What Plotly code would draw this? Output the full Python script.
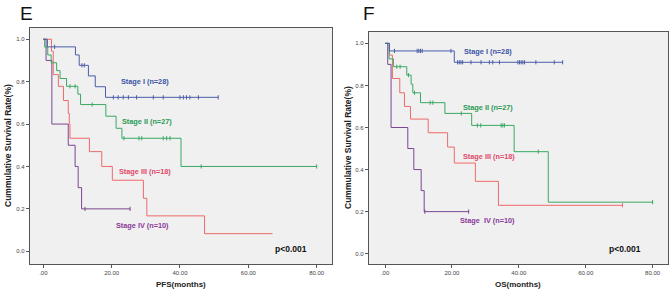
import numpy as np
import plotly.graph_objects as go

# ---------------- data ----------------
stage_names = ["Stage I (n=28)", "Stage II (n=27)", "Stage III (n=18)", "Stage IV (n=10)"]
os_stage_names = ["Stage I (n=28)", "Stage II (n=27)", "Stage III (n=18)", "Stage  IV (n=10)"]

x_tick_vals = [0, 20, 40, 60, 80]
x_tick_text = [".00", "20.00", "40.00", "60.00", "80.00"]
y_tick_vals = [0, 0.2, 0.4, 0.6, 0.8, 1.0]
y_tick_text = ["0.0", "0.2", "0.4", "0.6", "0.8", "1.0"]

# PFS (panel E)
pfs_s1_t = [0, 1.2, 9.4, 10.5, 13.2, 15.2, 18.2]
pfs_s1_s = [1, 0.964, 0.926, 0.877, 0.827, 0.776, 0.726]
pfs_s1_end = 51.2
pfs_s1_cens = [3.3, 11.3, 12.0, 20.5, 21.9, 23.4, 24.9, 27.3, 32.2, 35.1, 40.0, 41.0, 41.9, 42.9, 45.4, 51.2]

pfs_s2_t = [0, 0.4, 1.3, 2.3, 3.9, 4.9, 6.8, 10.1, 10.9, 18.3, 21.3, 23.0, 40.3]
pfs_s2_s = [1, 0.963, 0.926, 0.889, 0.852, 0.815, 0.778, 0.741, 0.692, 0.637, 0.58, 0.533, 0.40]
pfs_s2_end = 80
pfs_s2_cens = [7.8, 9.3, 14.3, 23.6, 28.0, 28.8, 35.1, 36.1, 37.1, 46.2, 80]

pfs_s3_t = [0, 2.4, 2.9, 4.4, 5.9, 7.3, 7.6, 7.8, 13.5, 17.1, 20.2, 29.3, 30.3, 47.2]
pfs_s3_s = [1, 0.944, 0.833, 0.778, 0.711, 0.65, 0.6, 0.533, 0.47, 0.40, 0.335, 0.25, 0.167, 0.083]
pfs_s3_end = 67.1
pfs_s3_cens = []

pfs_s4_t = [0, 0.8, 2.5, 7.3, 9.3, 10.2, 11.2]
pfs_s4_s = [1, 0.9, 0.6, 0.5, 0.4, 0.3, 0.2]
pfs_s4_end = 25.4
pfs_s4_cens = [12.2, 25.4]

# OS (panel F)
os_s1_t = [0, 1.3, 20.7]
os_s1_s = [1, 0.964, 0.91]
os_s1_end = 53.1
os_s1_cens = [2.8, 9.6, 10.1, 10.6, 11.1, 19.7, 21.7, 22.2, 22.7, 23.2, 25.7, 28.7, 31.2, 32.2,
              34.2, 39.7, 40.2, 40.7, 41.2, 41.7, 45.1, 50.6, 53.1]

os_s2_t = [0, 1.2, 2.5, 6.5, 7.8, 8.3, 10.6, 17.9, 25.9, 38.6, 48.8]
os_s2_s = [1, 0.926, 0.889, 0.849, 0.806, 0.765, 0.718, 0.667, 0.610, 0.485, 0.245]
os_s2_end = 80
os_s2_cens = [3.5, 4.5, 7.0, 8.8, 13.5, 14.3, 22.8, 27.6, 28.6, 34.7, 35.2, 35.7, 45.8, 80]

os_s3_t = [0, 1.3, 2.2, 4.4, 5.8, 7.6, 12.9, 18.7, 20.7, 27.0, 33.9]
os_s3_s = [1, 0.944, 0.833, 0.765, 0.70, 0.64, 0.575, 0.507, 0.431, 0.344, 0.23]
os_s3_end = 71
os_s3_cens = [71]

os_s4_t = [0, 0.8, 1.8, 6.8, 8.6, 10.8, 11.7]
os_s4_s = [1, 0.9, 0.6, 0.5, 0.4, 0.3, 0.2]
os_s4_end = 25
os_s4_cens = [11.9, 25]

# label anchor positions (data coords)
pfs_label_x = [29.8, 30.3, 29.8, 28.9]
pfs_label_y = [0.803, 0.611, 0.377, 0.123]
os_label_x = [30.7, 30.8, 31.2, 30.7]
os_label_y = [0.96, 0.696, 0.46, 0.159]

# ---------------- styles ----------------
line_colors = ["#4a5ea8", "#3aa863", "#ee6a6a", "#7a4690"]
text_colors = ["#3b55a8", "#2a9a55", "#e2486a", "#8a3a98"]

fig = go.Figure()


def add_curve(t, s, end, cens, color, xa, ya):
    xs = list(t) + [end]
    ys = list(s) + [s[-1]]
    fig.add_trace(go.Scatter(x=xs, y=ys, mode="lines", line=dict(color=color, width=1, shape="hv"),
                             xaxis=xa, yaxis=ya, showlegend=False, hoverinfo="skip"))
    if cens:
        tt = np.array(t)
        cv = [s[int(np.searchsorted(tt, c, side="right")) - 1] for c in cens]
        fig.add_trace(go.Scatter(x=cens, y=cv, mode="markers",
                                 marker=dict(symbol="line-ns", size=3, line=dict(color=color, width=1)),
                                 xaxis=xa, yaxis=ya, showlegend=False, hoverinfo="skip"))


pfs = [(pfs_s1_t, pfs_s1_s, pfs_s1_end, pfs_s1_cens), (pfs_s2_t, pfs_s2_s, pfs_s2_end, pfs_s2_cens),
       (pfs_s3_t, pfs_s3_s, pfs_s3_end, pfs_s3_cens), (pfs_s4_t, pfs_s4_s, pfs_s4_end, pfs_s4_cens)]
oss = [(os_s1_t, os_s1_s, os_s1_end, os_s1_cens), (os_s2_t, os_s2_s, os_s2_end, os_s2_cens),
       (os_s3_t, os_s3_s, os_s3_end, os_s3_cens), (os_s4_t, os_s4_s, os_s4_end, os_s4_cens)]

for i in [3, 2, 1, 0]:
    add_curve(*pfs[i], line_colors[i], "x", "y")
    add_curve(*oss[i], line_colors[i], "x2", "y2")

W, H = 672, 294
FONT = "Liberation Sans, Arial, sans-serif"

axis_common = dict(showgrid=False, zeroline=False, showline=True, mirror=True,
                   linecolor="#555555", linewidth=1.2, ticks="outside", ticklen=3,
                   tickcolor="#555555", tickfont=dict(size=6, color="#444444", family=FONT))

fig.update_layout(
    width=W, height=H, margin=dict(l=0, r=0, t=0, b=0),
    paper_bgcolor="white", plot_bgcolor="#f0f0f0",
    xaxis=dict(domain=[30 / W, 332 / W], range=[-3.9, 84.5], anchor="y",
               tickvals=x_tick_vals, ticktext=x_tick_text, **axis_common),
    yaxis=dict(domain=[(H - 264) / H, (H - 28) / H], range=[-0.06, 1.053], anchor="x",
               tickvals=y_tick_vals, ticktext=y_tick_text, **axis_common),
    xaxis2=dict(domain=[369 / W, 668 / W], range=[-4.8, 84.6], anchor="y2",
                tickvals=x_tick_vals, ticktext=x_tick_text, **axis_common),
    yaxis2=dict(domain=[(H - 264) / H, (H - 32) / H], range=[-0.049, 1.054], anchor="x2",
                tickvals=y_tick_vals, ticktext=y_tick_text, **axis_common),
)

anns = []
for i in range(4):
    anns.append(dict(x=pfs_label_x[i], y=pfs_label_y[i], xref="x", yref="y", text="<b>%s</b>" % stage_names[i],
                     showarrow=False, xanchor="center", yanchor="middle",
                     font=dict(size=7.3, color=text_colors[i], family=FONT)))
    anns.append(dict(x=os_label_x[i], y=os_label_y[i], xref="x2", yref="y2", text="<b>%s</b>" % os_stage_names[i],
                     showarrow=False, xanchor="center", yanchor="middle",
                     font=dict(size=7.3, color=text_colors[i], family=FONT)))
anns.append(dict(x=72.5, y=0.012, xref="x", yref="y", text="<b>p<0.001</b>", showarrow=False,
                 xanchor="center", yanchor="middle", font=dict(size=8.5, color="#111111", family=FONT)))
anns.append(dict(x=71.6, y=0.024, xref="x2", yref="y2", text="<b>p<0.001</b>", showarrow=False,
                 xanchor="center", yanchor="middle", font=dict(size=8.5, color="#111111", family=FONT)))


def paper_text(px, py, text, size, angle=0, color="#222222"):
    anns.append(dict(x=px / W, y=(H - py) / H, xref="paper", yref="paper", text=text, textangle=angle,
                     showarrow=False, xanchor="center", yanchor="middle",
                     font=dict(size=size, color=color, family=FONT)))


# axis titles
paper_text(181, 284, "<b>PFS(months)</b>", 8)
paper_text(518, 284, "<b>OS(months)</b>", 8)
paper_text(8, 146, "<b>Cummulative Survival Rate(%)</b>", 8.5, angle=-90)
paper_text(348, 148, "<b>Cummulative Survival Rate(%)</b>", 8.5, angle=-90)
# panel letters
paper_text(26.5, 13.5, "E", 19, color="#111111")
paper_text(368.5, 13.5, "F", 19, color="#111111")
fig.update_layout(annotations=anns)

fig.write_html("out.html", config={"displayModeBar": False},
               post_script="document.body.style.margin='0';document.body.style.padding='0';")
